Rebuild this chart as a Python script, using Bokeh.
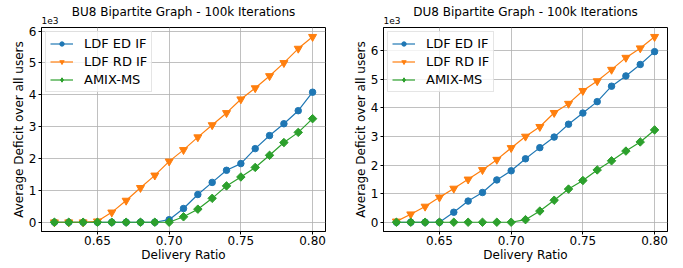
import math
from bokeh.plotting import figure
from bokeh.layouts import row
from bokeh.models import Range1d, FixedTicker, Label, Legend, LegendItem
from bokeh.embed import file_html
from bokeh.resources import INLINE

# ---- data ----
delivery_ratio = [0.62, 0.63, 0.64, 0.65, 0.66, 0.67, 0.68, 0.69, 0.70, 0.71,
                  0.72, 0.73, 0.74, 0.75, 0.76, 0.77, 0.78, 0.79, 0.80]

bu8_ldf_ed = [0, 0, 0, 0, 0, 0, 0, 0, 80, 430, 870, 1250, 1630, 1840, 2310, 2720, 3090, 3500, 4080]
bu8_ldf_rd = [0, 0, 0, 30, 310, 680, 1080, 1470, 1910, 2270, 2670, 3050, 3430, 3860, 4210, 4590, 5000, 5450, 5820]
bu8_amix = [0, 0, 0, 0, 0, 0, 0, 0, 0, 170, 410, 750, 1140, 1420, 1720, 2100, 2500, 2820, 3250]

du8_ldf_ed = [0, 0, 0, 0, 350, 740, 1040, 1480, 1800, 2220, 2610, 2980, 3430, 3820, 4220, 4760, 5120, 5520, 5970]
du8_ldf_rd = [30, 280, 550, 870, 1180, 1500, 1830, 2190, 2600, 3000, 3340, 3830, 4150, 4600, 4940, 5340, 5760, 6090, 6490]
du8_amix = [0, 0, 0, 0, 0, 0, 0, 0, 0, 90, 390, 770, 1160, 1460, 1830, 2150, 2490, 2810, 3230]

series_names = ["LDF ED IF", "LDF RD IF", "AMIX-MS"]
x_ticks = [0.65, 0.70, 0.75, 0.80]
y_ticks_left = [0, 1000, 2000, 3000, 4000, 5000, 6000]
y_ticks_right = [0, 1000, 2000, 3000, 4000, 5000, 6000]
titles = ["BU8 Bipartite Graph - 100k Iterations", "DU8 Bipartite Graph - 100k Iterations"]

COLORS = ["#1f77b4", "#ff7f0e", "#2ca02c"]
FONT = "DejaVu Sans"


def make_plot(title, series, y_ticks, width, border_left, border_right):
    all_y = [v for s in series for v in s]
    ymin, ymax = min(all_y), max(all_y)
    ypad = 0.05 * (ymax - ymin)
    xmin, xmax = min(delivery_ratio), max(delivery_ratio)
    xpad = 0.05 * (xmax - xmin)
    p = figure(output_backend="svg", toolbar_location=None,
               width=width, height=268,
               x_range=Range1d(xmin - xpad, xmax + xpad),
               y_range=Range1d(ymin - ypad, ymax + ypad),
               min_border_left=border_left, min_border_right=border_right,
               min_border_top=22, min_border_bottom=37)
    p.title.text = title
    p.title.text_font = FONT
    p.title.text_font_size = "12px"
    p.title.text_font_style = "normal"
    p.title.align = "center"
    p.title.text_color = "#000000"
    p.title.standoff = 4

    p.outline_line_color = "black"
    p.outline_line_width = 1
    p.outline_line_alpha = 1
    p.background_fill_color = "white"
    p.border_fill_color = "white"

    for ax in (p.xaxis[0], p.yaxis[0]):
        ax.major_label_text_font = FONT
        ax.major_label_text_font_size = "12px"
        ax.major_label_text_color = "#000000"
        ax.axis_label_text_font = FONT
        ax.axis_label_text_font_size = "12px"
        ax.axis_label_text_font_style = "normal"
        ax.axis_label_text_color = "#000000"
        ax.major_tick_in = 0
        ax.major_tick_out = 3
        ax.minor_tick_in = 0
        ax.minor_tick_out = 0
        ax.axis_line_color = "black"
        ax.major_tick_line_color = "black"
    p.xaxis.major_label_standoff = 1
    p.xaxis.axis_label_standoff = 0
    p.yaxis.major_label_standoff = 2
    p.yaxis.axis_label_standoff = 0

    p.xaxis.axis_label = "Delivery Ratio"
    p.yaxis.axis_label = "Average Deficit over all users"
    p.xaxis.ticker = FixedTicker(ticks=x_ticks)
    p.xaxis.major_label_overrides = {t: f"{t:.2f}" for t in x_ticks}
    p.yaxis.ticker = FixedTicker(ticks=y_ticks)
    p.yaxis.major_label_overrides = {t: f"{t/1000:g}" for t in y_ticks}

    p.xgrid.ticker = FixedTicker(ticks=x_ticks)
    p.ygrid.ticker = FixedTicker(ticks=y_ticks)
    for g in (p.xgrid[0], p.ygrid[0]):
        g.grid_line_color = "#b0b0b0"
        g.grid_line_width = 0.8
        g.grid_line_alpha = 1

    items = []
    markers = ["circle", "inverted_triangle", "square"]
    sizes = [6.5, 8, 6]
    angles = [0, 0, math.pi / 4]
    leg_markers = ["circle", "inverted_triangle", "diamond"]
    leg_sizes = [5.5, 6.5, 8]
    for s, name, c, m, sz, ang, lm, lsz in zip(series, series_names, COLORS, markers,
                                               sizes, angles, leg_markers, leg_sizes):
        ln = p.line(delivery_ratio, s, line_color=c, line_width=1.2)
        p.scatter(delivery_ratio, s, marker=m, size=sz, angle=ang,
                  fill_color=c, line_color=c)
        leg = p.scatter(delivery_ratio, s, marker=lm, size=lsz,
                        fill_color=c, line_color=c, visible=False)
        items.append(LegendItem(label=name, renderers=[ln, leg]))

    legend = Legend(items=items, location="top_left")
    legend.label_text_font = FONT
    legend.label_text_font_size = "13px"
    legend.label_text_color = "#000000"
    legend.border_line_color = "#cccccc"
    legend.border_line_width = 1
    legend.background_fill_alpha = 0.8
    legend.glyph_width = 23
    legend.glyph_height = 11
    legend.label_height = 14
    legend.spacing = 3
    legend.padding = 4
    legend.margin = 4
    legend.label_standoff = 11
    p.add_layout(legend)

    lbl = Label(x=0, y=4, x_units="screen", y_units="screen", text="1e3",
                text_font=FONT, text_font_size="9px", text_baseline="bottom",
                text_align="left", text_color="#000000")
    p.add_layout(lbl, "above")
    return p


p1 = make_plot(titles[0], [bu8_ldf_ed, bu8_ldf_rd, bu8_amix], y_ticks_left, 350, 41, 25)
p2 = make_plot(titles[1], [du8_ldf_ed, du8_ldf_rd, du8_amix], y_ticks_right, 333, 33, 16)

layout = row(p1, p2)
open("out.html", "w").write(file_html(layout, INLINE))
